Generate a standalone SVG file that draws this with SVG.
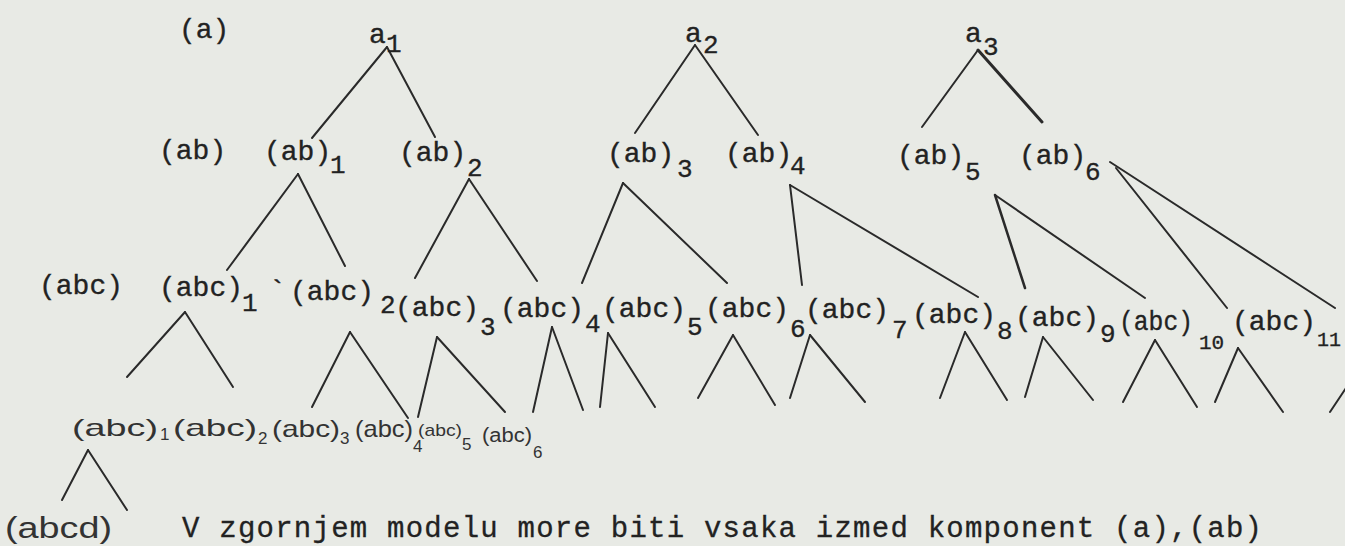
<svg xmlns="http://www.w3.org/2000/svg" width="1345" height="546" viewBox="0 0 1345 546">
<style>
.t{font-family:"Liberation Mono","DejaVu Sans Mono",monospace;font-size:28px;fill:#222;stroke:#222;stroke-width:0.35}
.s{font-family:"Liberation Mono","DejaVu Sans Mono",monospace;font-size:26px;fill:#222;stroke:#222;stroke-width:0.3}
.h{font-family:"Liberation Sans","DejaVu Sans",sans-serif;font-size:24px;fill:#333}
.hs{font-family:"Liberation Sans","DejaVu Sans",sans-serif;font-size:17px;fill:#333}
.p{font-family:"Liberation Mono","DejaVu Sans Mono",monospace;font-size:29px;fill:#222;stroke:#222;stroke-width:0.3}
.ln line{stroke:#2a2a2a;stroke-width:2;stroke-linecap:round}
</style>
<rect width="1345" height="546" fill="#e8eae5"/>
<g id="connectors" class="ln">
<line x1="387" y1="47" x2="312" y2="138"/><line x1="387" y1="47" x2="435" y2="137"/>
<line x1="695" y1="45" x2="635" y2="133"/><line x1="695" y1="45" x2="758" y2="135"/>
<line x1="978" y1="50" x2="922" y2="127"/><line x1="978" y1="50" x2="1042" y2="122" style="stroke-width:3"/>
<line x1="298" y1="174" x2="227" y2="270"/><line x1="298" y1="174" x2="345" y2="266"/>
<line x1="469" y1="179" x2="415" y2="278"/><line x1="469" y1="179" x2="537" y2="281"/>
<line x1="623" y1="183" x2="582" y2="283"/><line x1="623" y1="183" x2="727" y2="283"/>
<line x1="790" y1="185" x2="802" y2="285"/><line x1="790" y1="185" x2="978" y2="297"/>
<line x1="995" y1="195" x2="1025" y2="288" style="stroke-width:2.5"/><line x1="995" y1="195" x2="1145" y2="298"/>
<line x1="1116" y1="168" x2="1227" y2="308"/><line x1="1110" y1="162" x2="1335" y2="308"/>
<line x1="185" y1="312" x2="127" y2="377"/><line x1="185" y1="312" x2="233" y2="387"/>
<line x1="350" y1="332" x2="312" y2="407"/><line x1="350" y1="332" x2="408" y2="418"/>
<line x1="437" y1="337" x2="418" y2="417"/><line x1="437" y1="337" x2="505" y2="412"/>
<line x1="552" y1="327" x2="533" y2="412"/><line x1="552" y1="327" x2="583" y2="410"/>
<line x1="608" y1="333" x2="600" y2="407"/><line x1="608" y1="333" x2="655" y2="407"/>
<line x1="733" y1="335" x2="698" y2="398"/><line x1="733" y1="335" x2="775" y2="405"/>
<line x1="810" y1="335" x2="790" y2="398"/><line x1="810" y1="335" x2="865" y2="402"/>
<line x1="965" y1="332" x2="940" y2="398"/><line x1="965" y1="332" x2="1007" y2="400"/>
<line x1="1043" y1="337" x2="1025" y2="397"/><line x1="1043" y1="337" x2="1093" y2="400"/>
<line x1="1155" y1="340" x2="1123" y2="402"/><line x1="1155" y1="340" x2="1197" y2="407"/>
<line x1="1238" y1="348" x2="1215" y2="402"/><line x1="1238" y1="348" x2="1283" y2="412"/>
<line x1="1346" y1="388" x2="1330" y2="412"/>
<line x1="88" y1="450" x2="62" y2="500"/><line x1="88" y1="450" x2="127" y2="510"/>
</g>
<g id="n-a"><text class="t" x="179" y="38">(a)</text></g>
<g id="n-a1"><text class="t" x="369" y="43">a</text><text class="s" x="386" y="52">1</text></g>
<g id="n-a2"><text class="t" x="685" y="42">a</text><text class="s" x="703" y="53">2</text></g>
<g id="n-a3"><text class="t" x="965" y="42">a</text><text class="s" x="983" y="55">3</text></g>
<g id="n-ab"><text class="t" x="159" y="159">(ab)</text></g>
<g id="n-ab1"><text class="t" x="264" y="160">(ab)</text><text class="s" x="330" y="173">1</text></g>
<g id="n-ab2"><text class="t" x="399" y="161">(ab)</text><text class="s" x="467" y="176">2</text></g>
<g id="n-ab3"><text class="t" x="607" y="162">(ab)</text><text class="s" x="677" y="177">3</text></g>
<g id="n-ab4"><text class="t" x="725" y="162">(ab)</text><text class="s" x="790" y="174">4</text></g>
<g id="n-ab5"><text class="t" x="897" y="164">(ab)</text><text class="s" x="965" y="180">5</text></g>
<g id="n-ab6"><text class="t" x="1019" y="164">(ab)</text><text class="s" x="1085" y="180">6</text></g>
<g id="n-abc"><text class="t" x="39" y="294">(abc)</text></g>
<g id="n-abc1"><text class="t" x="159" y="296">(abc)</text><text class="s" x="242" y="311">1</text></g>
<g id="n-abc2"><text class="t" x="269" y="299">`</text><text class="t" x="290" y="300">(abc)</text><text class="s" x="380" y="313">2</text></g>
<g id="n-abc3"><text class="t" x="395" y="316">(abc)</text><text class="s" x="480" y="335">3</text></g>
<g id="n-abc4"><text class="t" x="500" y="317">(abc)</text><text class="s" x="585" y="332">4</text></g>
<g id="n-abc5"><text class="t" x="602" y="317">(abc)</text><text class="s" x="687" y="335">5</text></g>
<g id="n-abc6"><text class="t" x="705" y="317">(abc)</text><text class="s" x="790" y="337">6</text></g>
<g id="n-abc7"><text class="t" x="805" y="318">(abc)</text><text class="s" x="892" y="338">7</text></g>
<g id="n-abc8"><text class="t" x="912" y="323">(abc)</text><text class="s" x="997" y="339">8</text></g>
<g id="n-abc9"><text class="t" x="1015" y="326">(abc)</text><text class="s" x="1100" y="342">9</text></g>
<g id="n-abc10"><text class="t" x="1119" y="330" textLength="74" lengthAdjust="spacingAndGlyphs">(abc)</text><text class="s" x="1199" y="349" style="font-size:21px">10</text></g>
<g id="n-abc11"><text class="t" x="1232" y="330">(abc)</text><text class="s" x="1317" y="346" style="font-size:20px">11</text></g>
<g id="n-h1"><text class="h" x="72" y="436" textLength="86" lengthAdjust="spacingAndGlyphs">(abc)</text><text class="hs" x="160" y="440">1</text></g>
<g id="n-h2"><text class="h" x="173" y="436" textLength="84" lengthAdjust="spacingAndGlyphs">(abc)</text><text class="hs" x="258" y="444">2</text></g>
<g id="n-h3"><text class="h" x="272" y="437" textLength="68" lengthAdjust="spacingAndGlyphs">(abc)</text><text class="hs" x="340" y="444">3</text></g>
<g id="n-h4"><text class="h" x="355" y="437" textLength="58" lengthAdjust="spacingAndGlyphs">(abc)</text><text class="hs" x="413" y="452">4</text></g>
<g id="n-h5"><text class="hs" x="418" y="436" textLength="44" lengthAdjust="spacingAndGlyphs">(abc)</text><text class="hs" x="462" y="450">5</text></g>
<g id="n-h6"><text class="h" x="482" y="442" textLength="50" lengthAdjust="spacingAndGlyphs" style="font-size:20px">(abc)</text><text class="hs" x="533" y="458">6</text></g>
<g id="n-abcd"><text class="h" x="5" y="538" textLength="107" lengthAdjust="spacingAndGlyphs" style="font-size:30px">(abcd)</text></g>
<text class="p" x="182" y="537" textLength="1080" lengthAdjust="spacing">V zgornjem modelu more biti vsaka izmed komponent (a),(ab)</text>
</svg>
